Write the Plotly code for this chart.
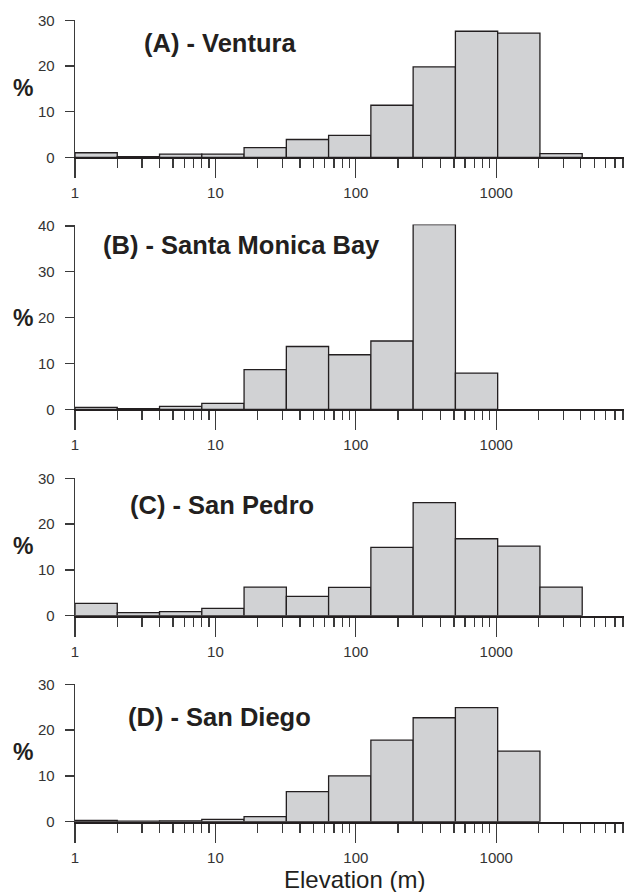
import plotly.graph_objects as go

# ---- data ----
bin_edges = [1, 2, 4, 8, 16, 32, 64, 128, 256, 512, 1024, 2048, 4096]
panel_titles = ["(A) - Ventura", "(B) - Santa Monica Bay", "(C) - San Pedro", "(D) - San Diego"]
ventura = [1.0, 0.15, 0.7, 0.7, 2.1, 3.9, 4.8, 11.4, 19.8, 27.6, 27.2, 0.8]
santa_monica = [0.4, 0.15, 0.65, 1.3, 8.65, 13.7, 11.9, 14.9, 40.3, 7.9, 0, 0]
san_pedro = [2.7, 0.65, 0.87, 1.6, 6.25, 4.2, 6.2, 14.9, 24.7, 16.8, 15.2, 6.25]
san_diego = [0.3, 0.1, 0.2, 0.5, 1.1, 6.55, 10.0, 17.8, 22.7, 24.9, 15.4, 0]
series = [ventura, santa_monica, san_pedro, san_diego]
y_max = [30, 40.3, 30, 30]
y_tickvals = [[0, 10, 20, 30], [0, 10, 20, 30, 40], [0, 10, 20, 30], [0, 10, 20, 30]]
x_major = [1, 10, 100, 1000]
x_major_labels = ["1", "10", "100", "1000"]
x_minor = [m * d for d in (1, 10, 100, 1000) for m in range(2, 10)]
x_title = "Elevation (m)"
y_title = "%"

# ---- layout geometry (pixels) ----
W, H = 624, 892
plot_left = 75
panel_px = [(20.3, 157.3), (224.6, 409.3), (478.3, 615.7), (684.3, 821.7)]
title_pos = [(142, 43), (101, 245), (128, 505), (126, 717)]
pct_pos = [88, 318, 546, 752]

FILL = "#d1d2d4"
EDGE = "#231f20"
AX = "#3a3a3a"
FONT = "Liberation Sans, Arial, sans-serif"

fig = go.Figure()
layout = dict(width=W, height=H, margin=dict(l=0, r=0, t=0, b=0, pad=0),
              autosize=False, template="none",
              paper_bgcolor="white", plot_bgcolor="white", showlegend=False,
              annotations=[])

for i, vals in enumerate(series):
    k = "" if i == 0 else str(i + 1)
    for j, v in enumerate(vals):
        if v <= 0:
            continue
        lo, hi = bin_edges[j], bin_edges[j + 1]
        fig.add_trace(go.Scatter(
            x=[lo, lo, hi, hi, lo], y=[0, v, v, 0, 0],
            mode="lines", fill="toself", fillcolor=FILL,
            line=dict(color=EDGE, width=1.3),
            xaxis="x" + k, yaxis="y" + k, hoverinfo="skip"))
    top, bot = panel_px[i]
    layout["xaxis" + k] = dict(
        type="log", range=[0, 3.91], domain=[plot_left / W, 1],
        anchor="y" + k, showline=True, linecolor=EDGE, linewidth=1.8,
        ticks="outside", ticklen=19, tickwidth=1.3, tickcolor=AX,
        tickmode="array", tickvals=x_major, ticktext=x_major_labels,
        tickfont=dict(family=FONT, size=15, color="#333333"),
        ticklabelstandoff=2, automargin=False,
        minor=dict(tickmode="array", tickvals=x_minor, ticks="outside",
                   ticklen=9, tickwidth=1.3, tickcolor=AX, showgrid=False),
        showgrid=False, zeroline=False, fixedrange=True)
    layout["yaxis" + k] = dict(
        range=[0, y_max[i]], domain=[1 - bot / H, 1 - top / H],
        anchor="x" + k, showline=True, linecolor=AX, linewidth=1.3,
        ticks="outside", ticklen=9, tickwidth=1.3, tickcolor=AX,
        tickmode="array", tickvals=y_tickvals[i],
        tickfont=dict(family=FONT, size=15, color="#333333"),
        ticklabelstandoff=7, automargin=False,
        showgrid=False, zeroline=False, fixedrange=True)
    tx, ty = title_pos[i]
    layout["annotations"].append(dict(
        text="<b>" + panel_titles[i] + "</b>", xref="paper", yref="paper",
        x=tx / W, y=1 - ty / H, xanchor="left", yanchor="middle",
        showarrow=False, font=dict(family=FONT, size=25.5, color=EDGE)))
    layout["annotations"].append(dict(
        text="<b>" + y_title + "</b>", xref="paper", yref="paper",
        x=23 / W, y=1 - pct_pos[i] / H, xanchor="center", yanchor="middle",
        showarrow=False, font=dict(family=FONT, size=23, color=EDGE)))

layout["annotations"].append(dict(
    text=x_title, xref="paper", yref="paper", x=354 / W, y=1 - 879 / H,
    xanchor="center", yanchor="middle", showarrow=False,
    font=dict(family=FONT, size=24, color=EDGE)))

fig.update_layout(**layout)
fig.write_html("out.html", config={"displayModeBar": False, "staticPlot": True},
               post_script="document.body.style.margin='0';document.body.style.padding='0';document.body.style.overflow='hidden';")
